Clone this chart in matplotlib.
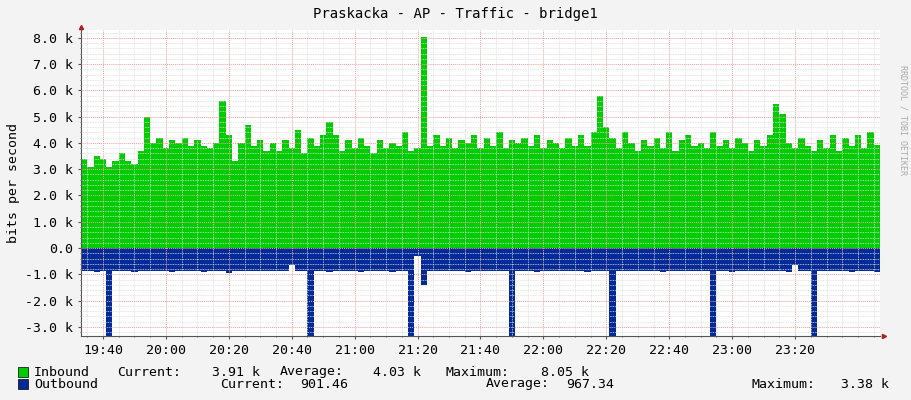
import matplotlib
matplotlib.use("Agg")
import matplotlib.pyplot as plt
import numpy as np

inbound = [3.4,3.1,3.5,3.4,3.1,3.3,3.6,3.3,3.2,3.7,
           5.0,4.0,4.2,3.8,4.1,4.0,4.2,3.9,4.1,3.9,
           3.8,4.0,5.6,4.3,3.3,4.0,4.7,3.9,4.1,3.7,
           4.0,3.7,4.1,3.8,4.5,3.6,4.2,3.9,4.3,4.8,
           4.3,3.7,4.1,3.8,4.2,3.9,3.6,4.1,3.8,4.0,
           3.9,4.4,3.7,3.8,8.05,3.9,4.3,3.9,4.2,3.8,
           4.1,4.0,4.3,3.8,4.2,3.9,4.4,3.8,4.1,4.0,
           4.2,3.9,4.3,3.8,4.1,4.0,3.8,4.2,3.9,4.3,
           3.9,4.4,5.8,4.6,4.2,3.8,4.4,4.0,3.7,4.1,
           3.9,4.2,3.8,4.4,3.7,4.1,4.3,3.9,4.0,3.8,
           4.4,3.9,4.1,3.8,4.2,4.0,3.7,4.1,3.9,4.3,
           5.5,5.1,4.0,3.8,4.2,3.9,3.7,4.1,3.8,4.3,
           3.7,4.2,3.9,4.3,3.8,4.4,3.91]
outbound = [0.88,0.88,0.90,0.88,3.38,0.88,0.87,0.88,0.90,0.88,
            0.88,0.87,0.88,0.88,0.92,0.88,0.88,0.88,0.87,0.90,
            0.88,0.88,0.88,0.95,0.88,0.87,0.88,0.88,0.88,0.87,
            0.88,0.88,0.88,0.65,0.88,0.88,3.38,0.88,0.88,0.90,
            0.88,0.88,0.87,0.88,0.92,0.88,0.88,0.88,0.88,0.90,
            0.88,0.88,3.38,0.30,1.40,0.88,0.88,0.88,0.87,0.88,
            0.88,0.90,0.88,0.88,0.88,0.87,0.88,0.88,3.38,0.88,
            0.88,0.88,0.90,0.88,0.88,0.87,0.88,0.88,0.88,0.88,
            0.90,0.88,0.88,0.88,3.38,0.88,0.88,0.87,0.88,0.88,
            0.88,0.88,0.90,0.88,0.88,0.88,0.87,0.88,0.88,0.88,
            3.38,0.88,0.88,0.90,0.88,0.88,0.87,0.88,0.88,0.88,
            0.88,0.88,0.90,0.65,0.88,0.88,3.38,0.88,0.88,0.88,
            0.88,0.88,0.90,0.88,0.88,0.88,0.90146]
tick_labels = ["19:40","20:00","20:20","20:40","21:00","21:20","21:40",
               "22:00","22:20","22:40","23:00","23:20"]
ytick_labels = ["-3.0 k","-2.0 k","-1.0 k","0.0","1.0 k","2.0 k","3.0 k",
                "4.0 k","5.0 k","6.0 k","7.0 k","8.0 k"]

W, H = 911, 400
fig = plt.figure(figsize=(W/100, H/100), dpi=100, facecolor="#F3F3F3")
plt.rcParams['font.family'] = ['DejaVu Sans Mono']
ax = fig.add_axes([81/W, 1-336/H, (880-81)/W, (336-30)/H])
ax.set_facecolor("white")

t = np.arange(len(inbound)) * 2.0  # minutes from 19:33
t_edges = np.append(t, t[-1] + 2)
inb = np.append(inbound, inbound[-1])
outb = -np.append(outbound, outbound[-1])
ax.fill_between(t_edges, 0, inb, step="post", color="#00CC00", lw=0)
ax.fill_between(t_edges, 0, outb, step="post", color="#002A97", lw=0)

ax.set_xlim(0, 254)
ax.set_ylim(-3.35, 8.3)

ax.set_xticks(np.arange(len(tick_labels)) * 20 + 7)
ax.set_xticklabels(tick_labels)
ax.set_xticks(np.arange(2, 254, 5), minor=True)
ax.set_yticks(np.arange(-3, 9, 1.0))
ax.set_yticklabels(ytick_labels)
ax.set_yticks(np.arange(-3.2, 8.3, 0.2), minor=True)
ax.grid(which="minor", color="#DDDDDD", ls=(0, (1, 1)), lw=0.6)
ax.grid(which="major", color="#F0A0A0", ls=(0, (1, 1)), lw=0.7)
ax.set_axisbelow(False)
ax.tick_params(which="both", length=2, labelsize=9.5, color="#555555")
ax.tick_params(which="minor", length=1)
for s in ["top", "right"]:
    ax.spines[s].set_visible(False)
for s in ["left", "bottom"]:
    ax.spines[s].set_color("#555555")
ax.plot([1.005], [0], ">", transform=ax.transAxes, color="#AA2222", ms=3, clip_on=False)
ax.plot([0], [1.01], "^", transform=ax.transAxes, color="#AA2222", ms=3, clip_on=False)
ax.set_ylabel("bits per second", fontsize=9.5, labelpad=4)

fig.text(455/W, 1-14/H, "Praskacka - AP - Traffic - bridge1", ha="center", va="center", fontsize=10)
fig.text(903/W, 1-120/H, "RRDTOOL / TOBI OETIKER", rotation=270, ha="center", va="center",
         fontsize=6, color="#AAAAAA")

def txt(x, y, s):
    fig.text(x/W, 1-y/H, s, ha="left", va="center", fontsize=9.5)
for (y, col) in [(372, "#00CC00"), (384, "#002A97")]:
    fig.patches.append(plt.Rectangle((18/W, 1-(y+5)/H), 10/W, 10/H, transform=fig.transFigure,
                                     facecolor=col, edgecolor="black", lw=0.5))
txt(34, 372, "Inbound"); txt(117, 372, "Current:"); txt(212, 372, "3.91 k")
txt(280, 372, "Average:"); txt(373, 372, "4.03 k"); txt(446, 372, "Maximum:"); txt(541, 372, "8.05 k")
txt(34, 384, "Outbound"); txt(220, 384, "Current:"); txt(300, 384, "901.46")
txt(486, 384, "Average:"); txt(566, 384, "967.34"); txt(751, 384, "Maximum:"); txt(841, 384, "3.38 k")

fig.savefig("out.png", dpi=100, facecolor=fig.get_facecolor())
